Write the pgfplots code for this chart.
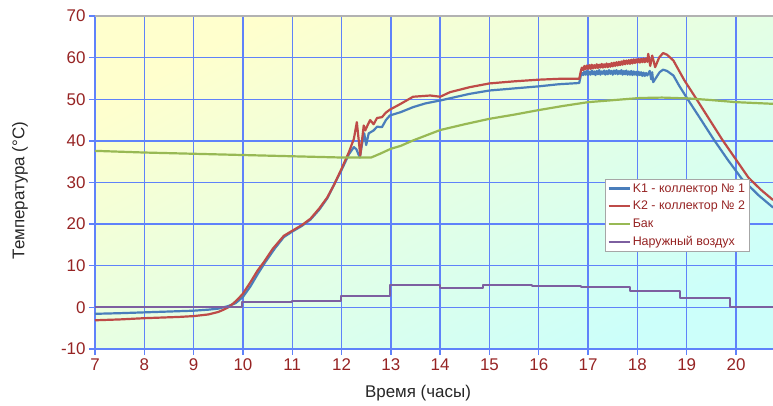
\documentclass[border=0pt]{standalone}
\usepackage{fontspec}
\setmainfont{Liberation Sans}
\usepackage{pgfplots}
\pgfplotsset{compat=1.18}
\definecolor{gridblue}{RGB}{95,130,250}
\definecolor{ticklab}{RGB}{150,35,35}
\definecolor{kone}{RGB}{74,126,187}
\definecolor{ktwo}{RGB}{190,75,72}
\definecolor{bak}{RGB}{152,185,84}
\definecolor{air}{RGB}{125,95,160}
\definecolor{bgtop}{RGB}{255,255,205}
\definecolor{bgmid}{RGB}{235,255,222}
\definecolor{bgbot}{RGB}{204,255,250}
\begin{document}
\begin{tikzpicture}
\begin{axis}[
  name=ax,
  scale only axis,
  width=678bp, height=333bp,
  xmin=7, xmax=20.75, ymin=-10, ymax=70,
  xtick={7,8,...,20}, ytick={-10,0,...,70},
  axis x line*=bottom, axis y line*=left,
  axis line style={-, draw=gridblue, line width=1.4bp},
  grid=major,
  major grid style={draw=gridblue, line width=1.4bp},
  tick align=outside, major tick length=6bp,
  tick style={draw=gridblue, line width=1.4bp},
  /pgf/number format/assume math mode=true,
  ticklabel style={font=\fontsize{17}{20}\selectfont, text=ticklab},
  axis background/.style={shade, top color=bgtop, middle color=bgmid, bottom color=bgbot, shading angle=28},
  xlabel={Время (часы)},
  ylabel={Температура (°C)},
  label style={font=\fontsize{17}{20}\selectfont, text=black!85},
  xlabel style={at={([xshift=-16bp,yshift=-44bp]axis description cs:0.5,0)}, anchor=center},
  ylabel style={at={([xshift=-75bp,yshift=-8bp]axis description cs:0,0.5)}, anchor=center, rotate=0},
  legend style={at={(axis cs:17.34,30.9)}, anchor=north west, draw=gray!70, fill=white,
    font=\fontsize{12.5}{15}\selectfont, text=ticklab, inner sep=2.5bp, row sep=3.5bp,
    cells={anchor=west}},
  legend image code/.code={\draw[#1] (0bp,0bp) -- (21bp,0bp);},
  every axis plot/.append style={line width=2.2bp, line join=round},
]
% K1
\addplot[kone] coordinates {
(7,-1.55) (7.5,-1.4) (8,-1.2) (8.5,-1.0) (9,-0.8) (9.3,-0.55) (9.5,-0.3) (9.7,0.3) (9.85,1.0)
(10,2.5) (10.15,5) (10.3,8) (10.45,10.8) (10.65,14.2) (10.83,16.9) (11,18.2) (11.2,19.6)
(11.37,21.1) (11.55,23.5) (11.71,26.2) (11.85,29.5) (12,33) (12.15,36.8) (12.25,38.5)
(12.3,38.0) (12.37,36) (12.42,39.5) (12.46,41.8) (12.5,39) (12.55,41.8) (12.65,42.5)
(12.72,43.4) (12.82,43.3) (12.9,45) (12.98,46.1) (13.2,46.9) (13.45,48.1) (13.7,49)
(14,49.7) (14.3,50.5) (14.6,51.3) (15,52.1) (15.5,52.6) (16,53.1) (16.4,53.6) (16.82,53.9)
(16.86,56.1)
(16.875,56.3) (16.900,55.8) (16.925,56.7) (16.950,55.9) (16.975,56.8) (17.000,55.8)
(17.025,56.6) (17.050,55.9) (17.075,56.9) (17.100,56.0) (17.125,56.7) (17.150,55.8)
(17.175,56.8) (17.200,56.0) (17.225,57.0) (17.250,55.9) (17.275,56.7) (17.300,56.1)
(17.325,56.9) (17.350,55.9) (17.375,56.8) (17.400,56.0) (17.425,57.0) (17.450,56.1)
(17.475,56.8) (17.500,55.9) (17.525,56.9) (17.550,56.1) (17.575,57.0) (17.600,56.0)
(17.625,56.8) (17.650,56.1) (17.675,57.0) (17.700,55.9) (17.725,56.8) (17.750,56.0)
(17.775,56.9) (17.800,55.9) (17.825,56.7) (17.850,55.9) (17.875,56.8) (17.900,55.8)
(17.925,56.7) (17.950,55.9) (17.975,56.6) (18.000,55.7) (18.025,56.6) (18.050,55.8)
(18.075,56.5) (18.100,55.6) (18.125,56.4) (18.150,55.6) (18.175,56.3) (18.200,55.7)
(18.25,56.8) (18.28,54.8) (18.3,56.5) (18.32,54.1) (18.38,55.2) (18.45,56.5) (18.52,57.1)
(18.6,56.8) (18.73,55.7) (18.85,53.2) (19.02,50) (19.3,44.9) (19.55,40.3) (19.83,35.5)
(20.11,31) (20.45,27) (20.75,24)
};
\addlegendentry{K1 - коллектор № 1}
% K2
\addplot[ktwo] coordinates {
(7,-3.1) (7.5,-2.9) (8,-2.6) (8.7,-2.3) (9,-2.1) (9.3,-1.7) (9.5,-1.1) (9.6,-0.6) (9.7,0)
(9.8,0.9) (9.9,2) (10,3.3) (10.15,6) (10.3,8.9) (10.42,10.8) (10.6,14) (10.83,17.2) (11,18.4)
(11.2,19.8) (11.37,21.3) (11.55,23.8) (11.71,26.4) (11.85,29.5) (12,33.3) (12.15,37.3)
(12.25,40.5) (12.31,44.5) (12.38,36.5) (12.45,43.7) (12.48,42.5) (12.53,43.8) (12.58,45)
(12.65,44) (12.72,45.5) (12.82,45.7) (12.9,46.8) (12.98,47.5) (13.2,48.9) (13.45,50.6)
(13.8,50.9) (14,50.6) (14.2,51.7) (14.6,52.9) (15,53.8) (15.5,54.3) (16,54.7) (16.4,54.9)
(16.82,54.9) (16.86,57.1)
(16.875,57.6) (16.900,57.0) (16.925,58.0) (16.950,57.2) (16.975,58.1) (17.000,57.3)
(17.025,58.2) (17.050,57.3) (17.075,58.3) (17.100,57.4) (17.125,58.2) (17.150,57.5)
(17.175,58.4) (17.200,57.5) (17.225,58.3) (17.250,57.6) (17.275,58.5) (17.300,57.6)
(17.325,58.4) (17.350,57.7) (17.375,58.6) (17.400,57.7) (17.425,58.5) (17.450,57.8)
(17.475,58.7) (17.500,57.9) (17.525,58.8) (17.550,58.0) (17.575,58.9) (17.600,58.1)
(17.625,59.0) (17.650,58.2) (17.675,59.1) (17.700,58.3) (17.725,59.3) (17.750,58.4)
(17.775,59.3) (17.800,58.5) (17.825,59.4) (17.850,58.5) (17.875,59.5) (17.900,58.6)
(17.925,59.6) (17.950,58.7) (17.975,59.6) (18.000,58.8) (18.025,59.7) (18.050,58.8)
(18.075,59.7) (18.100,58.9) (18.125,59.8) (18.150,58.9) (18.175,59.8) (18.200,59.0)
(18.22,60.9) (18.26,58) (18.3,60.5) (18.36,57.7) (18.44,60) (18.52,61.1) (18.6,60.7)
(18.73,59.3) (18.95,54.6) (19.2,50) (19.72,40.3) (20.25,31.2) (20.5,28.3) (20.75,25.8)
};
\addlegendentry{K2 - коллектор № 2}
% Бак
\addplot[bak] coordinates {
(7,37.6) (8,37.2) (9,36.9) (10,36.6) (11,36.3) (12,36.0) (12.6,36.0) (12.78,36.9) (13,38.1)
(13.2,38.8) (13.45,40.1) (14,42.6) (14.5,44) (15,45.3) (15.5,46.3) (16,47.4) (16.5,48.4)
(17,49.3) (17.63,49.9) (18.05,50.3) (18.5,50.4) (19.03,50.2) (19.5,49.8) (20,49.3) (20.75,48.9)
};
\addlegendentry{Бак}
% Наружный воздух
\addplot[air, const plot, line width=2bp] coordinates {
(7,0.15) (9.99,1.3) (10.99,1.6) (11.98,2.75) (12.98,5.4) (14.0,4.75) (14.86,5.3) (15.86,5.1)
(16.86,4.8) (17.85,4.0) (18.87,2.2) (19.87,0.15) (20.75,0.15)
};
\addlegendentry{Наружный воздух}
\draw[gray!60, line width=1.4bp] (rel axis cs:0,1) -- (rel axis cs:1,1);
\end{axis}
\pgfresetboundingbox
\path ([xshift=-95bp,yshift=-57bp]ax.south west) rectangle ([yshift=16bp]ax.north east);
\end{tikzpicture}
\end{document}
